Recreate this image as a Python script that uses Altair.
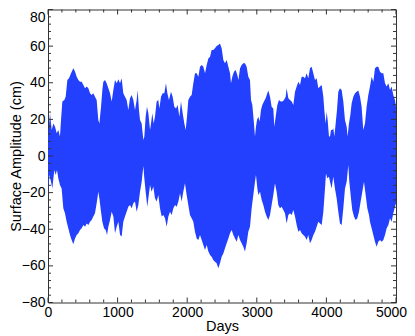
import altair as alt
import pandas as pd

# Upper envelope of the surface amplitude signal (cm)
upper_days = [0, 29, 53, 77, 101, 125, 148, 172, 187, 206, 235, 254, 278, 302, 331, 364,
              388, 412, 436, 460, 484, 508, 532, 556, 580, 604, 627, 651, 675, 699, 723, 738,
              762, 781, 795, 819, 843, 867, 891, 915, 939, 963, 987, 1011, 1035, 1058, 1082, 1106,
              1130, 1154, 1178, 1202, 1226,
              1250, 1274, 1288, 1307, 1322, 1346, 1355, 1370, 1384, 1403, 1422, 1442, 1466, 1480, 1499, 1518,
              1537, 1561, 1585, 1600, 1624, 1647, 1671, 1695, 1715, 1738, 1767, 1791, 1815, 1839, 1863, 1887,
              1911, 1935, 1959, 1978, 1997, 2016, 2040, 2064, 2088, 2112, 2136, 2160, 2184, 2208, 2232, 2256,
              2280, 2304, 2328, 2351, 2375, 2399, 2423, 2447, 2471, 2495, 2519,
              2543, 2567, 2591, 2615, 2629, 2648, 2672, 2696, 2720, 2735, 2759, 2782, 2806, 2830, 2854, 2878,
              2902, 2917, 2936, 2955, 2974, 2988, 3003, 3022, 3041, 3060, 3079, 3103, 3127, 3151, 3166, 3190,
              3213, 3237, 3252, 3271, 3295, 3319, 3343, 3367, 3391, 3415, 3429, 3453, 3477, 3501, 3525, 3549,
              3573, 3597, 3621, 3644, 3668, 3692, 3716, 3740, 3764, 3788, 3812,
              3836, 3860, 3884, 3908, 3932, 3956, 3970, 3989, 4004, 4018, 4037, 4052, 4066, 4085, 4099, 4114,
              4133, 4152, 4171, 4195, 4219, 4243, 4267, 4291, 4305, 4324, 4344, 4363, 4387, 4411, 4435, 4459,
              4483, 4506, 4530, 4554, 4578, 4602, 4626, 4650, 4674, 4698, 4722, 4746, 4770, 4794, 4818, 4842,
              4866, 4890, 4914, 4937, 4961, 4985, 5000]
upper_cm = [10.6, 23.3, 14.2, 17.8, 16, 12.4, 14.2, 10.6, 19.7, 29.7, 30.6, 32.4, 41.5, 42.4, 45.2, 47.9,
            46.1, 43.3, 41.5, 40.6, 40.6, 38.8, 37, 37.9, 37, 34.2, 33.3, 34.2, 32.4, 30.6, 19.7, 17.8,
            26.9, 36, 40.6, 41.5, 39.7, 37, 34.2, 29.7, 36, 41.5, 39.7, 41.9, 39.7, 42.4, 34.2, 32.4,
            30.6, 25.1, 31.5, 33.3, 30.6,
            25.1, 30.6, 36, 25.1, 19.7, 17.8, 14.2, 8.7, 10.5, 21.5, 26.9, 23.3, 14.2, 17.8, 23.3, 17.8,
            21.5, 29.7, 30.6, 26, 32.4, 34.2, 34.2, 39.7, 34.2, 30.6, 35.1, 32.4, 26.9, 26, 27.8, 21.5,
            29.7, 23.3, 17.8, 14.2, 21.5, 30.6, 32.4, 33.3, 39.7, 45.2, 45.2, 43.3, 48.8, 49.7, 48.8, 45.2,
            49.7, 53.3, 54.2, 57.9, 57.9, 58.8, 60.1, 60.6, 61.5, 58.8, 52.4,
            50.6, 52.4, 48.8, 45.2, 39.7, 43.3, 46, 47, 44.2, 41.5, 47.9, 49.7, 50.6, 50.6, 48.8, 43.3,
            41.5, 30.6, 27.8, 19.7, 10.6, 16, 19.7, 21.5, 18.8, 25.1, 27.8, 29.7, 31.5, 34.2, 35.7, 32.4,
            26.9, 26, 16, 21.5, 27.8, 30.6, 29.7, 29.7, 30.6, 32.4, 37, 31.5, 30.6, 29.7, 27.8, 35.1,
            37.9, 40.6, 38.8, 43.3, 43.3, 42.4, 45.2, 42.4, 47.9, 48.8, 45.2,
            41.5, 42.4, 37, 37.9, 38.8, 32.4, 25.1, 17.8, 24.2, 19.7, 10.6, 10.6, 14.2, 14.2, 15.1, 10.6,
            17.8, 25.1, 35.1, 37, 36, 29.7, 19.7, 16, 10.6, 17.8, 22.4, 28.8, 32.4, 34.2, 35.1, 35.7,
            32.4, 26.9, 14.2, 17.8, 26.9, 33.3, 37.9, 43.3, 40.6, 47.9, 48.8, 48.8, 46, 45.2, 45.2, 39.7,
            37.9, 39.7, 36, 37.9, 33.3, 30.6, 26.9]

# Lower envelope (cm)
lower_days = [0, 19, 43, 62, 91, 110, 129, 148, 172, 196, 220, 244, 268, 292, 316, 340,
              364, 388, 412, 436, 460, 484, 508, 532, 556, 580, 604, 627, 651, 675, 699, 723,
              738, 762, 781, 805, 829, 848, 867, 891, 915, 939, 963, 987, 1011, 1035, 1058, 1082,
              1106, 1130, 1154, 1178, 1202, 1226,
              1250, 1274, 1298, 1322, 1346, 1370, 1384, 1403, 1427, 1442, 1466, 1489, 1513, 1537, 1561, 1585,
              1609, 1633, 1657, 1681, 1705, 1729, 1753, 1777, 1801, 1825, 1849, 1873, 1897, 1920, 1944, 1968,
              1992, 2016, 2040, 2064, 2088, 2112, 2136, 2160, 2184, 2208, 2232, 2256, 2280, 2304, 2328, 2351,
              2375, 2399, 2423, 2447, 2471, 2495, 2519,
              2543, 2567, 2591, 2615, 2639, 2663, 2687, 2711, 2735, 2759, 2782, 2806, 2830, 2854, 2878, 2902,
              2926, 2950, 2974, 2988, 3008, 3022, 3046, 3070, 3094, 3118, 3142, 3166, 3190, 3213, 3237, 3261,
              3285, 3309, 3333, 3357, 3381, 3405, 3429, 3453, 3477, 3501, 3525, 3549, 3573, 3597, 3621, 3644,
              3668, 3692, 3716, 3740, 3764, 3788, 3812,
              3836, 3860, 3884, 3908, 3932, 3956, 3980, 3994, 4013, 4037, 4052, 4075, 4099, 4123, 4147, 4171,
              4195, 4219, 4243, 4267, 4291, 4315, 4329, 4353, 4372, 4396, 4420, 4444, 4468, 4492, 4516, 4540,
              4564, 4588, 4612, 4626, 4650, 4674, 4698, 4722, 4746, 4770, 4794, 4818, 4842, 4866, 4890, 4914,
              4937, 4961, 4985, 5000]
lower_cm = [-20, -10.4, -14, -17.7, -7.6, -10.4, -7.6, -12.2, -15.8, -17.7, -28.6, -31.3, -35.9, -39.5, -43.1, -45.9,
            -48.2, -45, -43.1, -42.2, -40.4, -39.5, -37.7, -38.6, -36.8, -37.7, -35.9, -35, -33.1, -31.3, -25.8, -19.5,
            -23.1, -30.4, -35.9, -39.5, -40.4, -43.1, -38.6, -35, -30.4, -33.1, -42.2, -38.6, -35.9, -43.1, -44, -35.9,
            -33.1, -30.4, -27.7, -26.8, -28.6, -25.8,
            -24.9, -30.4, -26.8, -19.5, -14, -5.5, -12.2, -19.5, -27.7, -23.1, -15.8, -19.5, -16.7, -23.1, -24.9, -21.3,
            -28.6, -33.1, -32.2, -34, -38.6, -33.1, -30.4, -32.2, -28.6, -26.8, -27.7, -24.9, -20.4, -24.9, -19.5, -14.9,
            -21.3, -26.8, -32.2, -34, -35.9, -41.3, -45, -45.9, -43.1, -45.9, -48.6, -51.3, -48.6, -52.2, -54.1, -55,
            -56.8, -57.7, -58.6, -61.3, -58.6, -55, -53.2,
            -50.4, -47.7, -45, -42.2, -40.4, -43.1, -45, -46.8, -43.1, -45.9, -47.7, -49.5, -52.2, -47.7, -41.3, -38.6,
            -28.6, -21.3, -14, -10.4, -17.7, -21.3, -19.5, -24, -26.8, -30.4, -33.1, -35, -32.2, -26.8, -21.3, -14.9,
            -19.5, -26.8, -28.6, -27.7, -29.5, -31.3, -36.8, -32.2, -31.3, -32.2, -29.5, -33.1, -37.7, -41.3, -40.4, -42.2,
            -43.1, -44, -45.9, -43.1, -47.7, -45.9, -43.1,
            -41.3, -38.6, -35.9, -36.8, -37.7, -30.4, -17.7, -9.5, -12.2, -11.3, -14, -17.7, -11.3, -17.7, -23.1, -30.4,
            -36.8, -37.7, -28.6, -17.7, -14, -4.9, -14, -23.1, -29.5, -33.1, -35, -34, -30.4, -24.9, -19.5, -14,
            -21.3, -28.6, -32.2, -35.9, -39.5, -43.1, -46.8, -49.5, -46.8, -45.9, -46.8, -45.9, -43.1, -39.5, -37.7, -34,
            -35.9, -31.3, -27.7, -25.8]

x_major = [0, 1000, 2000, 3000, 4000, 5000]
x_minor = [200, 400, 600, 800, 1200, 1400, 1600, 1800, 2200, 2400, 2600, 2800,
           3200, 3400, 3600, 3800, 4200, 4400, 4600, 4800]
y_major = [-80, -60, -40, -20, 0, 20, 40, 60, 80]
y_minor = [-76, -72, -68, -64, -56, -52, -48, -44, -36, -32, -28, -24, -16, -12, -8, -4,
           4, 8, 12, 16, 24, 28, 32, 36, 44, 48, 52, 56, 64, 68, 72, 76]

W, H = 348, 293
BLUE = "#2340ff"
AXC = "#333333"

up = pd.DataFrame({"day": upper_days, "cm": upper_cm, "base": [-4] * len(upper_days)})
lo = pd.DataFrame({"day": lower_days, "cm": lower_cm, "base": [4] * len(lower_days)})

xs = alt.Scale(domain=[0, 5000], nice=False, zero=False)
ys = alt.Scale(domain=[-80, 80], nice=False, zero=False)

x_axis = alt.Axis(values=x_major, format="d", ticks=False, domain=False, grid=False,
                  labelPadding=3, titlePadding=0, labelFlush=False, labelOverlap=False,
                  labelOffset={"condition": {"test": "datum.value == 5000", "value": -5},
                               "value": 0})
y_axis = alt.Axis(values=y_major, format="d", ticks=False, domain=False, grid=False,
                  labelPadding=3, titlePadding=-2, labelFlush=False, labelOverlap=False,
                  labelOffset={"condition": {"test": "datum.value == 80", "value": 8},
                               "value": 0})
X_TITLE = "Days"
Y_TITLE = "Surface Amplitude (cm)"


def xe(field):
    return alt.X(field, scale=xs, axis=x_axis, title=X_TITLE)


def ye(field):
    return alt.Y(field, scale=ys, axis=y_axis, title=Y_TITLE)


upper_area = alt.Chart(up).mark_area(color=BLUE, opacity=1).encode(
    x=xe("day:Q"), y=ye("cm:Q"), y2="base:Q")
lower_area = alt.Chart(lo).mark_area(color=BLUE, opacity=1).encode(
    x=xe("day:Q"), y=ye("cm:Q"), y2="base:Q")


def xticks(vals, length):
    d = pd.DataFrame({"t": vals})
    bot = alt.Chart(d).mark_rule(color=AXC, strokeWidth=1).encode(
        x=xe("t:Q"), y=alt.value(H), y2=alt.value(H - length))
    top = alt.Chart(d).mark_rule(color=AXC, strokeWidth=1).encode(
        x=xe("t:Q"), y=alt.value(0), y2=alt.value(length))
    return [bot, top]


def yticks(vals, length):
    d = pd.DataFrame({"t": vals})
    left = alt.Chart(d).mark_rule(color=AXC, strokeWidth=1).encode(
        y=ye("t:Q"), x=alt.value(0), x2=alt.value(length))
    right = alt.Chart(d).mark_rule(color=AXC, strokeWidth=1).encode(
        y=ye("t:Q"), x=alt.value(W - length), x2=alt.value(W))
    return [left, right]


layers = [upper_area, lower_area] + xticks(x_major, 5) + xticks(x_minor, 3) \
    + yticks(y_major, 5) + yticks(y_minor, 3)

chart = alt.layer(*layers).properties(
    width=W, height=H,
    autosize=alt.AutoSizeParams(type="none"),
    padding={"left": 40, "top": 1.5, "right": 11, "bottom": 32},
    background="white",
).configure_view(
    stroke=AXC, strokeWidth=1
).configure_axis(
    labelFont="Liberation Sans", titleFont="Liberation Sans",
    labelFontSize=14, titleFontSize=14.5, titleFontWeight="normal",
    labelColor="black", titleColor="black",
)

chart.save("out.html", embed_options={"renderer": "svg", "actions": False})
